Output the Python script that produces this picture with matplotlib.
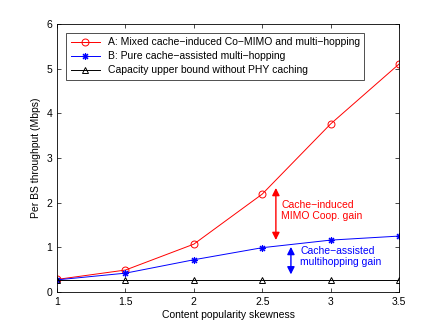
import numpy as np
import matplotlib
matplotlib.use('Agg')
import matplotlib.pyplot as plt

plt.rcParams['font.family'] = ['Liberation Sans', 'DejaVu Sans']

skew = [1, 1.5, 2, 2.5, 3, 3.5]
mixed = [0.28, 0.49, 1.07, 2.19, 3.76, 5.10]
pure = [0.27, 0.42, 0.72, 0.99, 1.16, 1.25]
bound = [0.27, 0.27, 0.27, 0.27, 0.27, 0.27]

fig = plt.figure(figsize=(4.36, 3.28), dpi=100)
ax = fig.add_axes([0.131, 0.110, 0.784, 0.817])

ax.plot(skew, mixed, 'r-o', mfc='none', ms=5, lw=0.7, mew=0.7,
        label='A: Mixed cache\u2212induced Co\u2212MIMO and multi\u2212hopping')
ax.plot(skew, pure, 'b-', marker=(8, 2, 0), ms=5, lw=0.7, mew=0.8,
        label='B: Pure cache\u2212assisted multi\u2212hopping')
ax.plot(skew, bound, 'k-^', mfc='none', ms=5, lw=0.7, mew=0.7,
        label='Capacity upper bound without PHY caching')

# gain arrows
ax.annotate('', xy=(2.60, 2.39), xytext=(2.60, 1.10),
            arrowprops=dict(arrowstyle='<|-|>', color='red', lw=1.0, mutation_scale=11))
ax.annotate('', xy=(2.71, 1.07), xytext=(2.71, 0.33),
            arrowprops=dict(arrowstyle='<|-|>', color='blue', lw=1.0, mutation_scale=11))
ax.text(2.64, 1.83, 'Cache\u2212induced\nMIMO Coop. gain', color='red', fontsize=7.5,
        va='center', ha='left', linespacing=1.1)
ax.text(2.78, 0.80, 'Cache\u2212assisted\nmultihopping gain', color='blue', fontsize=7.5,
        va='center', ha='left', linespacing=1.1)

ax.set_xlim(1, 3.5)
ax.set_ylim(0, 6)
ax.set_xticks(skew)
ax.set_xticklabels(['1', '1.5', '2', '2.5', '3', '3.5'])
ax.set_yticks([0, 1, 2, 3, 4, 5, 6])
ax.tick_params(direction='in', top=True, right=True, labelsize=7.5, length=3, width=0.5)
for s in ax.spines.values():
    s.set_linewidth(0.6)
ax.set_xlabel('Content popularity skewness', fontsize=7.5, labelpad=2)
ax.set_ylabel('Per BS throughput (Mbps)', fontsize=7.5, labelpad=4)

leg = ax.legend(loc='upper left', fontsize=7.5, fancybox=False, edgecolor='black',
                borderaxespad=0.9, handlelength=2.8, labelspacing=0.38, borderpad=0.4)
leg.get_frame().set_linewidth(0.6)

plt.savefig('out.png', dpi=100)
